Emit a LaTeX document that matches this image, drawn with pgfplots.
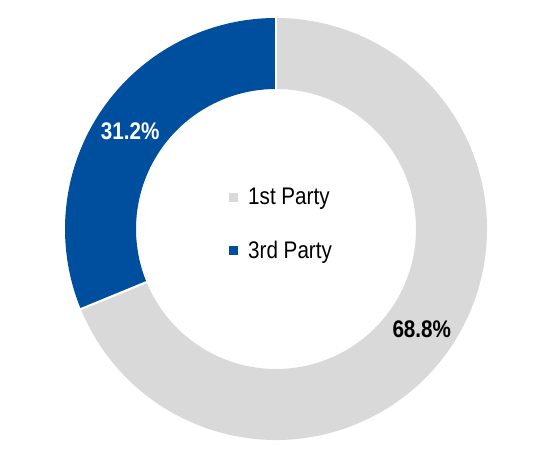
\documentclass[border=0pt]{standalone}
\usepackage{pgfplots}
\pgfplotsset{compat=1.18}
\usepackage{fontspec}
\setmainfont{Liberation Sans}[FakeStretch=0.86]
\definecolor{firstc}{RGB}{217,217,217}
\definecolor{thirdc}{RGB}{0,79,159}
\begin{document}
\begin{tikzpicture}
% shares (percent)
\def\vfirst{68.8}
\def\vthird{31.2}
\pgfmathsetmacro\aend{90+3.6*\vthird}
\pgfmathsetmacro\amidthird{90+1.8*\vthird}
\pgfmathsetmacro\amidfirst{\aend+1.8*\vfirst}
\def\Ro{211}
\def\Ri{140}
\pgfmathsetmacro\Rm{(\Ro+\Ri)/2}
\begin{axis}[
  hide axis, scale only axis,
  width=554pt, height=449pt,
  xmin=0, xmax=554, ymin=0, ymax=449,
  clip=false,
]
\coordinate (bl) at (rel axis cs:0,0);
\coordinate (tr) at (rel axis cs:1,1);
\begin{scope}[shift={(axis cs:276,220)}]
  \fill[thirdc] (90:\Ro pt) arc[start angle=90, end angle=\aend, radius=\Ro pt]
     -- (\aend:\Ri pt) arc[start angle=\aend, end angle=90, radius=\Ri pt] -- cycle;
  \fill[firstc] (\aend:\Ro pt) arc[start angle=\aend, end angle=450, radius=\Ro pt]
     -- (450:\Ri pt) arc[start angle=450, end angle=\aend, radius=\Ri pt] -- cycle;
  \draw[white, line width=2.2pt] (90:\Ri pt-1pt) -- (90:\Ro pt+1pt);
  \draw[white, line width=2.2pt] (\aend:\Ri pt-1pt) -- (\aend:\Ro pt+1pt);
  \node[text=white, font=\fontsize{24}{28}\bfseries\selectfont] at (\amidthird:\Rm pt) {31.2\%};
  \node[text=black, font=\fontsize{24}{28}\bfseries\selectfont] at ([yshift=-3pt]\amidfirst:\Rm pt) {68.8\%};
\end{scope}
% legend
\fill[firstc] (axis cs:229,247) rectangle (axis cs:238,256);
\node[anchor=base west, inner sep=0pt, font=\fontsize{24}{28}\selectfont] at (axis cs:248,244.5) {1st Party};
\fill[thirdc] (axis cs:229,194) rectangle (axis cs:238,203);
\node[anchor=base west, inner sep=0pt, font=\fontsize{24}{28}\selectfont] at (axis cs:248,190.5) {3rd Party};
\end{axis}
\path (bl) rectangle (tr);
\end{tikzpicture}
\end{document}
